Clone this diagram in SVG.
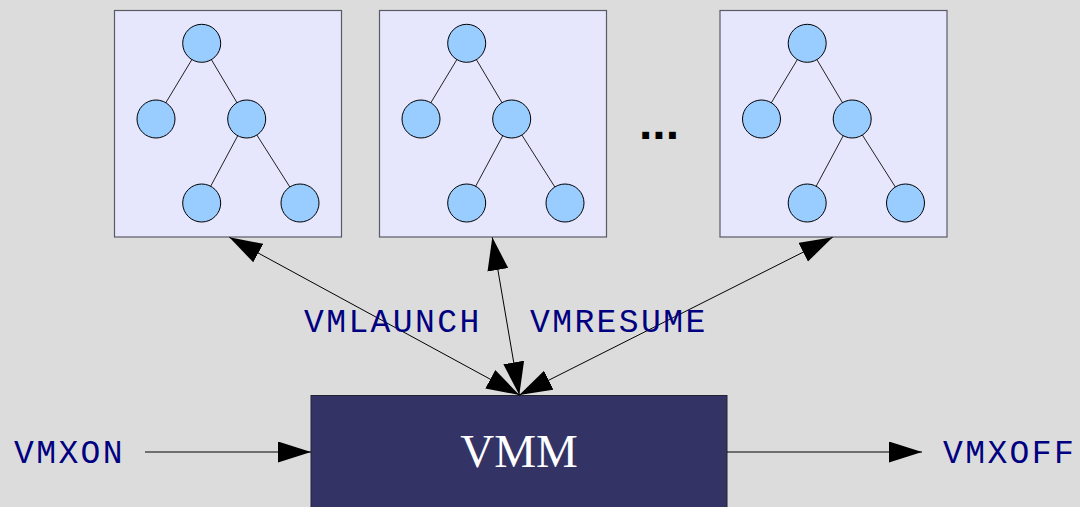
<svg xmlns="http://www.w3.org/2000/svg" width="1080" height="507" viewBox="0 0 1080 507">
  <style>
    .vm { fill: #e6e6fc; stroke: #5a5a66; stroke-width: 1.2; }
    .node { fill: #99ccff; stroke: #000; stroke-width: 1; }
    .edge { stroke: #222; stroke-width: 1; }
    .conn { stroke: #000; stroke-width: 1; fill: none; }
    .instr { font-family: "Liberation Mono", "DejaVu Sans Mono", monospace; font-size: 33px; letter-spacing: 2.4px; fill: #000080; }
    .vmm { fill: #333366; stroke: #222233; stroke-width: 1; }
    .vmmlabel { font-family: "Liberation Serif", "DejaVu Serif", serif; font-size: 47px; fill: #ffffff; text-anchor: middle; }
    .dots { font-family: "Liberation Sans", "DejaVu Sans", sans-serif; font-size: 48px; font-weight: bold; fill: #000; }
  </style>
  <defs>
    <marker id="head" markerUnits="userSpaceOnUse" markerWidth="34" markerHeight="22" refX="33" refY="10.5" orient="auto-start-reverse">
      <path d="M0,0 L33,10.5 L0,21 z" fill="#000"/>
    </marker>
    <!-- one guest: a small tree of circles in a lavender frame -->
    <g id="tree">
      <rect class="vm" x="114.5" y="10.5" width="227" height="226.5"/>
      <line class="edge" x1="201.7" y1="43.3" x2="156" y2="119"/>
      <line class="edge" x1="201.7" y1="43.3" x2="246.7" y2="119"/>
      <line class="edge" x1="246.7" y1="119" x2="201.7" y2="203"/>
      <line class="edge" x1="246.7" y1="119" x2="300" y2="203"/>
      <circle class="node" cx="201.7" cy="43.3" r="19"/>
      <circle class="node" cx="156" cy="119" r="19"/>
      <circle class="node" cx="246.7" cy="119" r="19"/>
      <circle class="node" cx="201.7" cy="203" r="19"/>
      <circle class="node" cx="300" cy="203" r="19"/>
    </g>
  </defs>

  <rect width="1080" height="507" fill="#dcdcdc"/>

  <g id="vm1"><use href="#tree"/></g>
  <g id="vm2"><use href="#tree" transform="translate(265,0)"/></g>
  <g id="vm3"><use href="#tree" transform="translate(605.5,0)"/></g>

  <text id="ellipsis" class="dots" x="639" y="139">...</text>

  <g id="vmm">
    <rect class="vmm" x="311" y="395.5" width="416" height="120"/>
    <text class="vmmlabel" x="519" y="467">VMM</text>
  </g>

  <g id="connectors">
    <line class="conn" x1="229.3" y1="237.3" x2="519.3" y2="395" marker-start="url(#head)" marker-end="url(#head)"/>
    <line class="conn" x1="492.3" y1="237.3" x2="519.3" y2="395" marker-start="url(#head)" marker-end="url(#head)"/>
    <line class="conn" x1="832.7" y1="237.3" x2="519.3" y2="395" marker-start="url(#head)" marker-end="url(#head)"/>
    <line class="conn" x1="145" y1="452" x2="311" y2="452" marker-end="url(#head)"/>
    <line class="conn" x1="727" y1="452" x2="922" y2="452" marker-end="url(#head)"/>
  </g>

  <g id="labels">
    <text class="instr" x="14" y="463">VMXON</text>
    <text class="instr" x="943" y="463">VMXOFF</text>
    <text class="instr" x="304" y="332">VMLAUNCH</text>
    <text class="instr" x="530" y="332">VMRESUME</text>
  </g>
</svg>
